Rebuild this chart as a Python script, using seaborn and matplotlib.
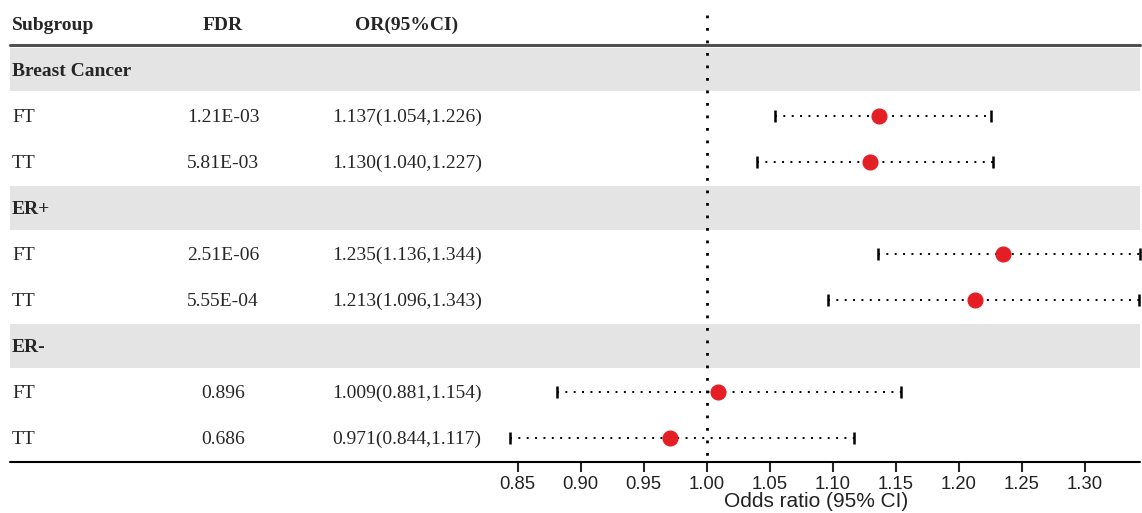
import numpy as np
import seaborn as sns
import pandas as pd
from matplotlib import pyplot as plt
from matplotlib import transforms

groups = ["Breast Cancer", "ER+", "ER-"]
subtypes = ["FT", "TT"]
fdr = ["1.21E-03", "5.81E-03", "2.51E-06", "5.55E-04", "0.896", "0.686"]
odds = [1.137, 1.130, 1.235, 1.213, 1.009, 0.971]
lower = [1.054, 1.040, 1.136, 1.096, 0.881, 0.844]
upper = [1.226, 1.227, 1.344, 1.343, 1.154, 1.117]
xticks = [0.85, 0.90, 0.95, 1.00, 1.05, 1.10, 1.15, 1.20, 1.25, 1.30]

# row layout: group header then its two subtypes
rows = []
k = 0
for gi, g in enumerate(groups):
    for si, s in enumerate(subtypes):
        rows.append(dict(group=g, sub=s, y=3 * gi + 1 + si, fdr=fdr[k],
                         OR=odds[k], lo=lower[k], hi=upper[k]))
        k += 1
df = pd.DataFrame(rows)

sns.set_style("white")
serif = ["Liberation Serif", "DejaVu Serif"]
plt.rcParams["font.family"] = ["Liberation Sans", "DejaVu Sans"]
fs = 14

fig = plt.figure(figsize=(11.42, 5.13), dpi=100)
ax = fig.add_axes([510 / 1142, 1 - 462 / 513, 630 / 1142, (462 - 45) / 513])
ymax, ymin = 8.52, -0.54
ax.set_ylim(ymax, ymin)
ax.set_xlim(min(lower), max(upper))
left = (10 - 510) / 630

# grey group bands + group labels
tr = transforms.blended_transform_factory(fig.transFigure, ax.transData)
for gi, g in enumerate(groups):
    y = 3 * gi
    ax.axhspan(y - 0.47, y + 0.47, xmin=left, xmax=1, color="#e4e4e4",
               clip_on=False, zorder=0, lw=0)
    fig.text(12 / 1142, y + 0.03, g, transform=tr, ha="left", va="center",
             family=serif, fontsize=fs, fontweight="bold")

# header
hy = -0.96
fig.text(12 / 1142, hy, "Subgroup", transform=tr, ha="left", va="center",
         family=serif, fontsize=fs, fontweight="bold")
fig.text(223 / 1142, hy, "FDR", transform=tr, ha="center", va="center",
         family=serif, fontsize=fs, fontweight="bold")
fig.text(407 / 1142, hy, "OR(95%CI)", transform=tr, ha="center", va="center",
         family=serif, fontsize=fs, fontweight="bold")

# table rows
for _, r in df.iterrows():
    yy = r.y + 0.03
    fig.text(12 / 1142, yy, r["sub"], transform=tr, ha="left", va="center",
             family=serif, fontsize=fs)
    fig.text(223 / 1142, yy, r.fdr, transform=tr, ha="center", va="center",
             family=serif, fontsize=fs)
    fig.text(407 / 1142, yy, f"{r.OR:.3f}({r.lo:.3f},{r.hi:.3f})",
             transform=tr, ha="center", va="center", family=serif, fontsize=fs)

# top and bottom rules
ax.axhline(ymin, xmin=left, xmax=1, color="#505050", lw=2.2, clip_on=False)
ax.axhline(ymax, xmin=left, xmax=1, color="black", lw=1.5, clip_on=False)

# reference line
ax.plot([1, 1], [-1.2, ymax], color="black", lw=2, ls=(0, (1, 3.5)),
        clip_on=False, zorder=1)

# CIs
ax.hlines(df.y, df.lo, df.hi, color="black", lw=1.4, linestyles=[(0, (1, 3.3))],
          zorder=2, clip_on=False)
ax.plot(df.lo, df.y, ls="none", marker="|", ms=8, mew=1.8, color="black", clip_on=False)
ax.plot(df.hi, df.y, ls="none", marker="|", ms=8, mew=1.8, color="black", clip_on=False)
sns.scatterplot(data=df, x="OR", y="y", ax=ax, s=115, color="#e31e24",
                edgecolor="#e31e24", zorder=3, clip_on=False, legend=False)

for s in ["top", "right", "left", "bottom"]:
    ax.spines[s].set_visible(False)
ax.set_yticks([])
ax.set_ylabel("")
ax.set_xticks(xticks)
ax.set_xticklabels([f"{t:.2f}" for t in xticks], fontsize=13.3, color="#222222")
ax.tick_params(axis="x", direction="out", length=7, width=1.5, bottom=True, pad=3)
ax.set_xlabel("Odds ratio (95% CI)", fontsize=15, color="#222222")
ax.xaxis.set_label_coords((816 - 510) / 630, -0.072)
ax.set_facecolor("none")

fig.savefig("out.png", dpi=100)
